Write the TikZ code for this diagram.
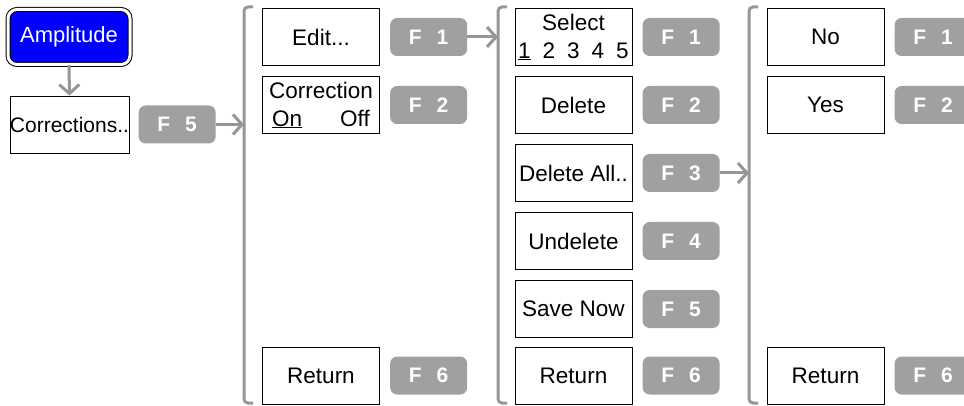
\documentclass[tikz,border=0pt]{standalone}
\usepackage{fontspec}
\setmainfont{Liberation Sans}
\usetikzlibrary{arrows.meta, positioning}

\definecolor{keygray}{RGB}{160,160,160}
\definecolor{linegray}{RGB}{150,150,150}
\definecolor{ampblue}{RGB}{0,0,255}

\tikzset{
    menubox/.style={draw=black, line width=0.9pt, fill=white, inner sep=0pt,
        minimum width=117pt, minimum height=57pt, align=center,
        font=\fontsize{22.5}{28}\selectfont},
    fkey/.style={fill=keygray, rounded corners=7pt, inner sep=0pt,
        minimum width=77pt, minimum height=38pt, text=white,
        font=\fontsize{21}{24}\selectfont\bfseries},
    link/.style={draw=linegray, line width=3pt,
        -{Straight Barb[length=9pt, width=20pt]}},
    bracket/.style={draw=linegray, line width=3pt, rounded corners=4pt}
}
\newcommand{\fk}[1]{F\hspace{15pt}#1\hspace{9pt}}

\begin{document}
\begin{tikzpicture}[x=1pt, y=-1pt]
    \clip (0,0) rectangle (964,406);

    % 1. Start: Amplitude -> Corrections..
    \node[draw=black, line width=1pt, double=white, double distance=3pt,
          fill=ampblue, rounded corners=9pt, minimum width=122pt, minimum height=55pt,
          inner sep=0pt, text=white, font=\fontsize{22}{27}\selectfont]
          (amp) at (69,37) {Amplitude};
    \node[menubox, font=\fontsize{21}{27}\selectfont] (corr) at (69.5,124.5) {Corrections..};
    \node[fkey, right=9pt of corr] (kcorr) {\fk{5}};
    \draw[link] (amp.south) -- (corr.north);

    % 2. Brackets
    \draw[bracket] (253,7) -- (244,7) -- (244,403) -- (253,403);
    \draw[bracket] (507,7) -- (498,7) -- (498,403) -- (507,403);
    \draw[bracket] (758,7) -- (749,7) -- (749,403) -- (758,403);
    \coordinate (inA) at (244,124.5);
    \coordinate (inB) at (498,37);
    \coordinate (inC) at (749,173);

    % 3. First menu
    \node[menubox] (edit) at (321,37) {Edit...};
    \node[menubox] (corrsw) at (321,105) {Correction\\\underline{On}\hspace{38pt}Off};
    \node[menubox] (retA) at (321,375.5) {Return};
    \node[fkey, right=10pt of edit] (kedit) {\fk{1}};
    \node[fkey, right=10pt of corrsw] (kcorrsw) {\fk{2}};
    \node[fkey, right=10pt of retA] (kretA) {\fk{6}};

    % 4. Edit menu
    \node[menubox] (sel) at (573.5,37) {Select\\\underline{1}\hspace{12pt}2\hspace{12pt}3\hspace{12pt}4\hspace{12pt}5};
    \node[menubox] (del) at (573.5,105) {Delete};
    \node[menubox] (delall) at (573.5,173) {Delete All..};
    \node[menubox] (undel) at (573.5,241) {Undelete};
    \node[menubox] (save) at (573.5,309) {Save Now};
    \node[menubox] (retB) at (573.5,375.5) {Return};
    \node[fkey, right=10pt of sel] (ksel) {\fk{1}};
    \node[fkey, right=10pt of del] (kdel) {\fk{2}};
    \node[fkey, right=10pt of delall] (kdelall) {\fk{3}};
    \node[fkey, right=10pt of undel] (kundel) {\fk{4}};
    \node[fkey, right=10pt of save] (ksave) {\fk{5}};
    \node[fkey, right=10pt of retB] (kretB) {\fk{6}};

    % 5. Confirm menu
    \node[menubox] (no) at (825.5,37) {No};
    \node[menubox] (yes) at (825.5,105) {Yes};
    \node[menubox] (retC) at (825.5,375.5) {Return};
    \node[fkey, right=10pt of no] (kno) {\fk{1}};
    \node[fkey, right=10pt of yes] (kyes) {\fk{2}};
    \node[fkey, right=10pt of retC] (kretC) {\fk{6}};

    % 6. Links into the brackets
    \draw[link] (kcorr.east) -- (inA);
    \draw[link] (kedit.east) -- (inB);
    \draw[link] (kdelall.east) -- (inC);
\end{tikzpicture}
\end{document}
